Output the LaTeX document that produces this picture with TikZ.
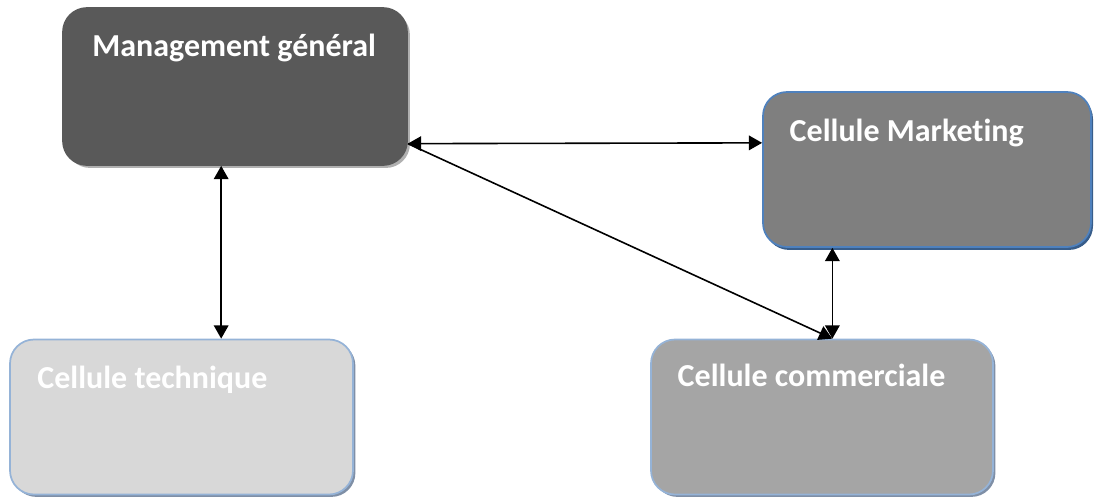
\documentclass[tikz,border=0pt]{standalone}
\usepackage{fontspec}
\setmainfont{Carlito}[Ligatures=NoCommon]
\usetikzlibrary{arrows.meta,calc,shadows}
\definecolor{mgfill}{HTML}{595959}
\definecolor{mkfill}{HTML}{7F7F7F}
\definecolor{ccfill}{HTML}{A5A5A5}
\definecolor{tcfill}{HTML}{D8D8D8}
\definecolor{blueedge}{HTML}{4F81BD}
\definecolor{lightedge}{HTML}{95B3D7}
\definecolor{darkshadow}{HTML}{385D8A}
\definecolor{greyshadow}{HTML}{7F8FA6}
\definecolor{mgshadow}{HTML}{B0B0B0}
\tikzset{
  cell/.style={rectangle, rounded corners=18pt, inner sep=0pt, line width=1.3pt},
  celltitle/.style={anchor=base west, text=white, font=\bfseries\fontsize{24}{28}\selectfont, inner sep=0pt},
  tip/.style={Triangle[length=10pt,width=11pt]},
  link/.style={line width=1.2pt, {Triangle[length=10pt,width=11pt]}-{Triangle[length=10pt,width=11pt]}},
  onelink/.style={line width=1.2pt, -{Triangle[length=10pt,width=11pt]}},
}
\begin{document}
\begin{tikzpicture}[x=0.75pt,y=-0.75pt]
\useasboundingbox (0,0) rectangle (1096,497);

% boxes
\node[cell, fill=mgfill, draw=mgfill, minimum width=258pt, minimum height=117.75pt,
  drop shadow={shadow xshift=2.2pt, shadow yshift=-2.2pt, fill=mgshadow, opacity=1}] (mg) at (235,86.5) {};
\node[cell, fill=mkfill, draw=blueedge, minimum width=246pt, minimum height=116.25pt,
  drop shadow={shadow xshift=1.5pt, shadow yshift=-2.2pt, fill=darkshadow, opacity=1}] (mk) at (927,169.5) {};
\node[cell, fill=tcfill, draw=lightedge, minimum width=257.25pt, minimum height=116.25pt,
  drop shadow={shadow xshift=1.8pt, shadow yshift=-1.8pt, fill=greyshadow, opacity=1}] (tc) at (181.5,417) {};
\node[cell, fill=ccfill, draw=lightedge, minimum width=256.5pt, minimum height=116.25pt,
  drop shadow={shadow xshift=1.8pt, shadow yshift=-1.8pt, fill=greyshadow, opacity=1}] (cc) at (822,417) {};

% titles
\node[celltitle] (mgt) at ([xshift=22.5pt,yshift=-37pt]mg.north west) {Management général};
\node[celltitle] (mkt) at ([xshift=20.5pt,yshift=-38pt]mk.north west) {Cellule Marketing};
\node[celltitle] (tct) at ([xshift=21pt,yshift=-37.5pt]tc.north west) {Cellule technique};
\node[celltitle] (cct) at ([xshift=20.5pt,yshift=-36pt]cc.north west) {Cellule commerciale};

% anchor points on the box edges
\coordinate (mgR) at ($(mg.north east)!0.86!(mg.south east)$);
\coordinate (mkL) at ($(mk.north west)!0.33!(mk.south west)$);
\coordinate (mgB) at ($(mg.south west)!0.46!(mg.south east)$);
\coordinate (ccT) at ($(cc.north west)!0.53!(cc.north east)$);
\coordinate (mkB) at ($(mk.south west)!0.213!(mk.south east)$);

% connectors
\draw[link] (mgR) -- (mkL);
\draw[link] (mgB) -- (mgB |- tc.north);
\draw[onelink] (mgR) -- (ccT);
\draw[link] (mkB) -- (mkB |- cc.north);
\end{tikzpicture}
\end{document}
